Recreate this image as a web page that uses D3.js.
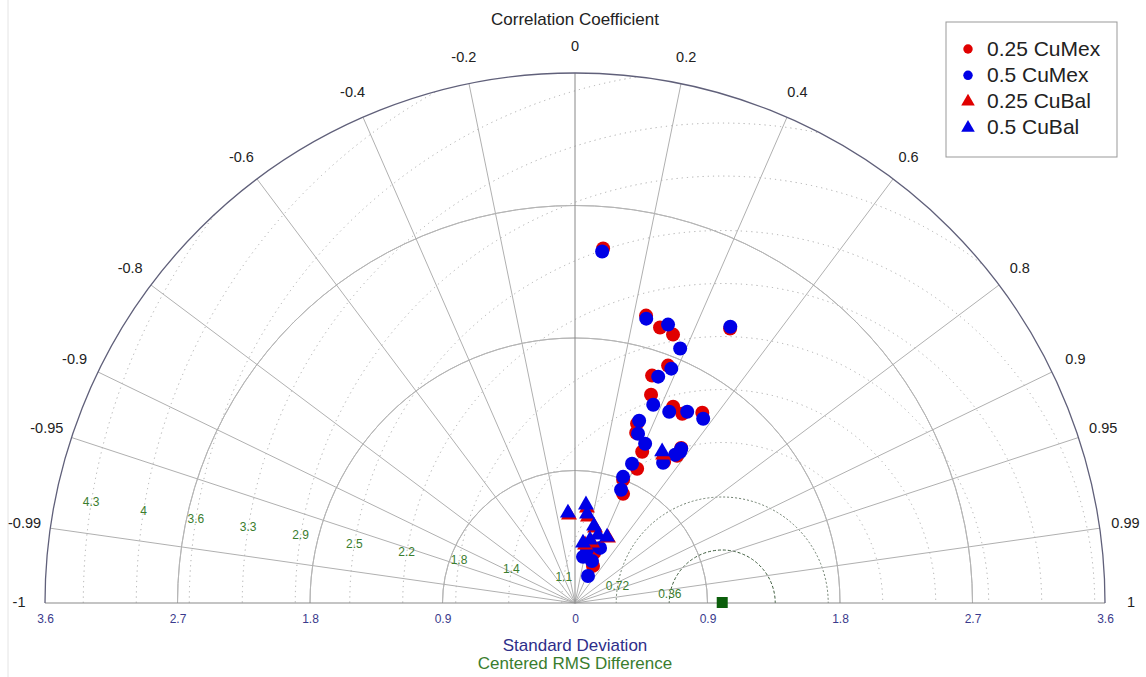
<!DOCTYPE html>
<html>
<head>
<meta charset="utf-8">
<script src="https://cdn.jsdelivr.net/npm/d3@7"></script>
<style>
  body { margin: 0; background: #fff; }
  svg { font-family: "Liberation Sans", Arial, sans-serif; }
</style>
</head>
<body>
<div id="chart"></div>
<script>
// Taylor diagram data (standard deviation, correlation)
const stdTicks = [0.9, 1.8, 2.7];
const stdAxisTicks = [-3.6, -2.7, -1.8, -0.9, 0, 0.9, 1.8, 2.7, 3.6];
const corrTicks = [-0.99, -0.95, -0.9, -0.8, -0.6, -0.4, -0.2, 0.2, 0.4, 0.6, 0.8, 0.9, 0.95, 0.99];
const corrLabels = [-1, -0.99, -0.95, -0.9, -0.8, -0.6, -0.4, -0.2, 0, 0.2, 0.4, 0.6, 0.8, 0.9, 0.95, 0.99, 1];
const rmsValues = [0.36, 0.72, 1.09, 1.45, 1.81, 2.17, 2.53, 2.9, 3.26, 3.62, 3.98, 4.34];
const rmsLabels = ["0.36", "0.72", "1.1", "1.4", "1.8", "2.2", "2.5", "2.9", "3.3", "3.6", "4", "4.3"];
const refStd = 1.0;

const mex50Std  = [2.395, 1.991, 1.994, 2.153, 1.870, 1.721, 1.638, 1.448, 1.448, 1.506, 1.525, 1.312, 1.227, 1.182, 1.125, 1.251, 1.272, 1.215, 1.022, 0.917, 0.830, 0.411, 0.318, 0.308, 0.204, 0.370];
const mex50Corr = [0.077, 0.243, 0.317, 0.490, 0.382, 0.380, 0.345, 0.367, 0.442, 0.506, 0.571, 0.332, 0.349, 0.403, 0.532, 0.571, 0.567, 0.560, 0.379, 0.356, 0.377, 0.414, 0.171, 0.375, 0.434, 0.221];

const mex25Std  = [2.416, 2.011, 1.958, 1.941, 2.141, 1.732, 1.631, 1.506, 1.491, 1.478, 1.555, 1.289, 1.229, 1.124, 1.134, 1.277, 1.217, 1.005, 0.898, 0.810, 0.280, 0.364];
const mex25Corr = [0.079, 0.240, 0.295, 0.343, 0.492, 0.365, 0.321, 0.343, 0.447, 0.493, 0.556, 0.327, 0.338, 0.406, 0.534, 0.565, 0.570, 0.420, 0.364, 0.403, 0.437, 0.356];

const bal50Std  = [0.614, 0.671, 0.611, 0.539, 0.499, 1.186, 0.412, 0.441, 0.488];
const bal50Corr = [-0.078, 0.111, 0.134, 0.240, 0.436, 0.499, 0.132, 0.231, 0.320];

const bal25Std  = [0.600, 0.651, 0.592, 0.528, 0.496, 1.171, 0.401, 0.424];
const bal25Corr = [-0.068, 0.125, 0.149, 0.258, 0.452, 0.511, 0.170, 0.273];

const legendLabels = ["0.25 CuMex", "0.5 CuMex", "0.25 CuBal", "0.5 CuBal"];
const legendColors = ["#e00000", "#0000e6", "#e00000", "#0000e6"];
const legendShapes = ["circle", "circle", "triangle", "triangle"];

const width = 1146, height = 677;
const cx = 575, cy = 603, R = 530;

const svg = d3.select("#chart").append("svg")
    .attr("width", width)
    .attr("height", height);

const r = d3.scaleLinear().domain([0, 3.6]).range([0, R]);
const xAxisScale = d3.scaleLinear().domain([-3.6, 3.6]).range([cx - R, cx + R]);

function pos(std, corr) {
    const th = Math.acos(corr);
    return [cx + r(std) * Math.cos(th), cy - r(std) * Math.sin(th)];
}

const arc = d3.arc().startAngle(-Math.PI / 2).endAngle(Math.PI / 2);

svg.append("defs").append("clipPath").attr("id", "semi")
    .append("path")
    .attr("transform", `translate(${cx},${cy})`)
    .attr("d", arc({ innerRadius: 0, outerRadius: R }));

// faint frame edge on the left
svg.append("line")
    .attr("x1", 8).attr("y1", 0).attr("x2", 8).attr("y2", height)
    .attr("stroke", "#e4e4e4").attr("stroke-width", 1);

// RMS circles
const refX = cx + r(refStd);
const rmsG = svg.append("g").attr("clip-path", "url(#semi)");
rmsG.selectAll("circle").data(rmsValues).enter().append("circle")
    .attr("cx", refX).attr("cy", cy)
    .attr("r", d => r(d))
    .attr("fill", "none")
    .attr("stroke", (d, i) => i === 0 ? "#3b5a3b" : i === 1 ? "#6f7f6f" : "#aaa")
    .attr("stroke-width", 1)
    .attr("stroke-dasharray", (d, i) => i === 0 ? "3,2" : i === 1 ? "2,2" : "1.2,4");

// std arcs
svg.append("g").selectAll("path").data(stdTicks).enter().append("path")
    .attr("transform", `translate(${cx},${cy})`)
    .attr("d", d => arc({ innerRadius: r(d), outerRadius: r(d) }))
    .attr("fill", "none")
    .attr("stroke", "#b5b5b5")
    .attr("stroke-width", 1);

// correlation rays
svg.append("g").selectAll("line").data(corrTicks).enter().append("line")
    .attr("x1", cx).attr("y1", cy)
    .attr("x2", d => pos(3.6, d)[0])
    .attr("y2", d => pos(3.6, d)[1])
    .attr("stroke", "#b0b0b0")
    .attr("stroke-width", 1);

svg.append("line")
    .attr("x1", cx).attr("y1", cy).attr("x2", cx).attr("y2", cy - R)
    .attr("stroke", "#888").attr("stroke-width", 1);

svg.append("line")
    .attr("x1", cx - R).attr("y1", cy).attr("x2", cx + R).attr("y2", cy)
    .attr("stroke", "#8a8a8a").attr("stroke-width", 1.2);

// outer arc
svg.append("path")
    .attr("transform", `translate(${cx},${cy})`)
    .attr("d", arc({ innerRadius: R, outerRadius: R }))
    .attr("fill", "none")
    .attr("stroke", "#60607a")
    .attr("stroke-width", 1.3);

// correlation labels
svg.append("g").selectAll("text").data(corrLabels).enter().append("text")
    .attr("x", d => cx + 556 * Math.cos(Math.acos(d)))
    .attr("y", d => cy - 556 * Math.sin(Math.acos(d)))
    .attr("text-anchor", "middle")
    .attr("dominant-baseline", "middle")
    .attr("font-size", 14.5)
    .attr("fill", "#222")
    .text(d => d);

svg.append("text")
    .attr("x", cx).attr("y", 21)
    .attr("text-anchor", "middle")
    .attr("dominant-baseline", "middle")
    .attr("font-size", 17)
    .attr("fill", "#222")
    .text("Correlation Coefficient");

// std axis labels
const xAxis = svg.append("g")
    .attr("transform", `translate(0,${cy + 8})`)
    .call(d3.axisBottom(xAxisScale).tickValues(stdAxisTicks).tickSize(0).tickFormat(d => Math.abs(d)));
xAxis.select(".domain").remove();
xAxis.selectAll("text")
    .attr("font-family", "Liberation Sans, Arial, sans-serif")
    .attr("font-size", 12)
    .attr("fill", "#3a3a8c");

svg.append("text")
    .attr("x", cx).attr("y", 647)
    .attr("text-anchor", "middle").attr("dominant-baseline", "middle")
    .attr("font-size", 17).attr("fill", "#2e2e8a")
    .text("Standard Deviation");

svg.append("text")
    .attr("x", cx).attr("y", 665)
    .attr("text-anchor", "middle").attr("dominant-baseline", "middle")
    .attr("font-size", 17).attr("fill", "#3a7d2e")
    .text("Centered RMS Difference");

// RMS labels
const labAng = 171 * Math.PI / 180;
svg.append("g").selectAll("text").data(rmsValues).enter().append("text")
    .attr("x", d => refX + r(d) * Math.cos(labAng))
    .attr("y", d => cy - r(d) * Math.sin(labAng))
    .attr("text-anchor", "middle")
    .attr("dominant-baseline", "middle")
    .attr("font-size", 12)
    .attr("fill", "#3a7d2e")
    .text((d, i) => rmsLabels[i]);

// reference point
svg.append("rect")
    .attr("x", refX - 5.5).attr("y", cy - 6)
    .attr("width", 11).attr("height", 11)
    .attr("fill", "#0b5e0b");

// data markers
const tri = d3.symbol().type(d3.symbolTriangle).size(110);

function drawCircles(stds, corrs, color) {
    svg.append("g").selectAll("circle").data(stds).enter().append("circle")
        .attr("cx", (d, i) => pos(d, corrs[i])[0])
        .attr("cy", (d, i) => pos(d, corrs[i])[1])
        .attr("r", 7)
        .attr("fill", color);
}
function drawTriangles(stds, corrs, color) {
    svg.append("g").selectAll("path").data(stds).enter().append("path")
        .attr("d", tri)
        .attr("transform", (d, i) => `translate(${pos(d, corrs[i])[0]},${pos(d, corrs[i])[1]})`)
        .attr("fill", color);
}

drawCircles(mex25Std, mex25Corr, "#e00000");
drawCircles(mex50Std, mex50Corr, "#0000e6");
drawTriangles(bal25Std, bal25Corr, "#e00000");
drawTriangles(bal50Std, bal50Corr, "#0000e6");

// legend
const lg = svg.append("g");
lg.append("rect")
    .attr("x", 946).attr("y", 22).attr("width", 171).attr("height", 135)
    .attr("fill", "#fff").attr("stroke", "#999").attr("stroke-width", 1);

const items = lg.selectAll("g.item").data(legendLabels).enter().append("g")
    .attr("class", "item")
    .attr("transform", (d, i) => `translate(968,${49 + i * 26.3})`);

items.append("path")
    .attr("d", (d, i) => legendShapes[i] === "circle"
        ? d3.symbol().type(d3.symbolCircle).size(70)()
        : d3.symbol().type(d3.symbolTriangle).size(80)())
    .attr("fill", (d, i) => legendColors[i]);

items.append("text")
    .attr("x", 19).attr("y", 1)
    .attr("dominant-baseline", "middle")
    .attr("font-size", 21)
    .attr("fill", "#222")
    .text(d => d);
</script>
</body>
</html>
